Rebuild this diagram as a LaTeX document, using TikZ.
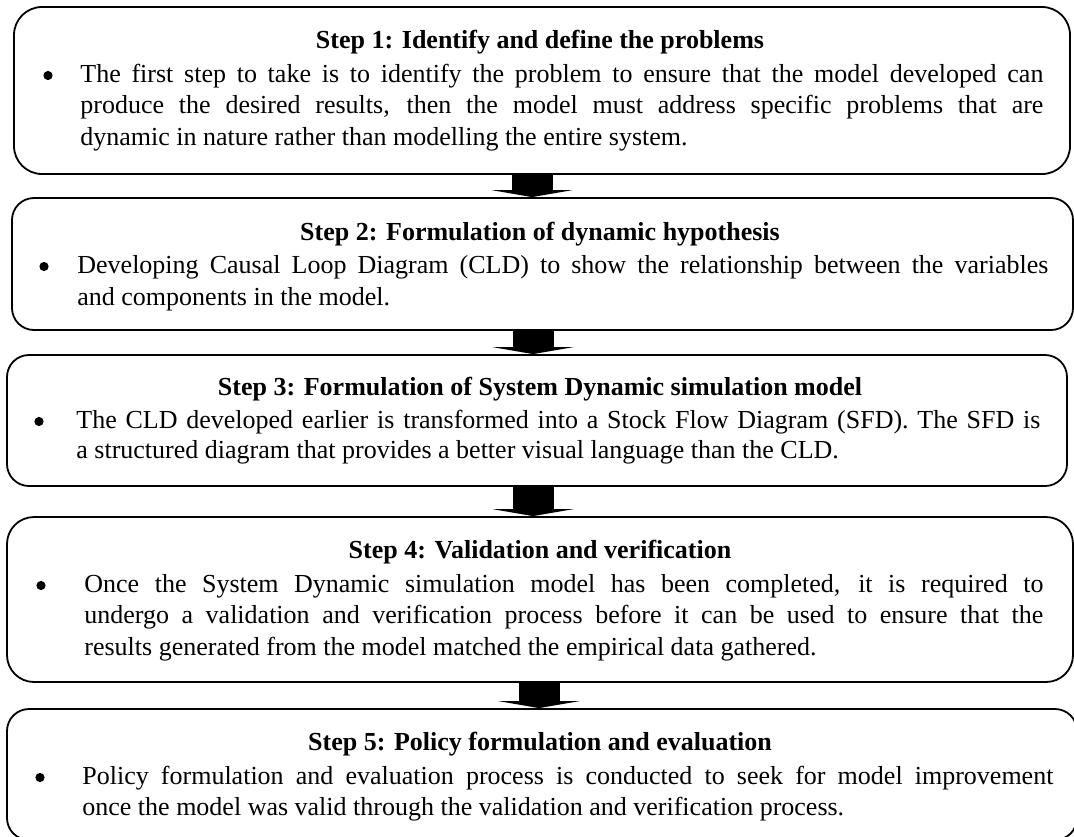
\documentclass[tikz,border=0pt]{standalone}
\usepackage{fontspec}
\setmainfont{Liberation Serif}
\usetikzlibrary{arrows.meta}
\newcommand{\txtfont}{\fontsize{13pt}{15.75pt}\selectfont}
\newcommand{\fl}[2]{\makebox[#1][s]{#2}}
\tikzset{
  stepbox/.style={draw, line width=0.9pt, rectangle, inner sep=0pt},
  headtext/.style={anchor=base, inner sep=0pt, font=\txtfont\bfseries},
  bodyline/.style={anchor=base west, inner sep=0pt, font=\txtfont},
  bul/.style={circle, fill=black, inner sep=0pt, minimum size=4.6pt},
  flow/.style={line width=20.5pt, -{Triangle[width=40.5pt,length=3.5pt,line width=0pt]}},
}
\begin{document}
\begin{tikzpicture}[x=0.5pt, y=-0.5pt]
\useasboundingbox (0,0) rectangle (1074,836);

% boxes
\node[stepbox, minimum width=528pt, minimum height=83.5pt, rounded corners=14pt] (b1) at (542,90.5) {};
\node[stepbox, minimum width=530.5pt, minimum height=66pt, rounded corners=11pt] (b2) at (542.5,264) {};
\node[stepbox, minimum width=530pt, minimum height=65.5pt, rounded corners=11pt] (b3) at (537,420.5) {};
\node[stepbox, minimum width=533pt, minimum height=82.5pt, rounded corners=13.5pt] (b4) at (540,599.5) {};
\node[stepbox, minimum width=535pt, minimum height=65.5pt, rounded corners=11pt] (b5) at (542,774.5) {};

% arrows
\coordinate (s1) at ([xshift=-5pt]b1.south);
\coordinate (s2) at ([xshift=-4.75pt]b2.south);
\coordinate (s3) at ([xshift=-2pt]b3.south);
\coordinate (s4) at ([xshift=-0.5pt]b4.south);
\draw[flow] (s1) -- (s1 |- b2.north);
\draw[flow] (s2) -- (s2 |- b3.north);
\draw[flow] (s3) -- (s3 |- b4.north);
\draw[flow] (s4) -- (s4 |- b5.north);

% Step 1
\node[headtext] (h1) at (540,48) {Step 1: Identify and define the problems};
\node[bul] (u1) at (48,75.5) {};
\node[bodyline] (t1a) at (80,82) {\fl{481.5pt}{The first step to take is to identify the problem to ensure that the model developed can}};
\node[bodyline] (t1b) at (80,113.5) {\fl{481.5pt}{produce the desired results, then the model must address specific problems that are}};
\node[bodyline] (t1c) at (80,145) {dynamic in nature rather than modelling the entire system.};

% Step 2
\node[headtext] (h2) at (540,240) {Step 2: Formulation of dynamic hypothesis};
\node[bul] (u2) at (44,266.5) {};
\node[bodyline] (t2a) at (77,273) {\fl{485.5pt}{Developing Causal Loop Diagram (CLD) to show the relationship between the variables}};
\node[bodyline] (t2b) at (77,305) {and components in the model.};

% Step 3
\node[headtext] (h3) at (540,395) {Step 3: Formulation of System Dynamic simulation model};
\node[bul] (u3) at (39,421.5) {};
\node[bodyline] (t3a) at (76,428) {\fl{482pt}{The CLD developed earlier is transformed into a Stock Flow Diagram (SFD). The SFD is}};
\node[bodyline] (t3b) at (76,458) {a structured diagram that provides a better visual language than the CLD.};

% Step 4
\node[headtext] (h4) at (540,558) {Step 4: Validation and verification};
\node[bul] (u4) at (41,585.5) {};
\node[bodyline] (t4a) at (84,592) {\fl{479.5pt}{Once the System Dynamic simulation model has been completed, it is required to}};
\node[bodyline] (t4b) at (84,623.5) {\fl{479.5pt}{undergo a validation and verification process before it can be used to ensure that the}};
\node[bodyline] (t4c) at (84,655) {results generated from the model matched the empirical data gathered.};

% Step 5
\node[headtext] (h5) at (540,750) {Step 5: Policy formulation and evaluation};
\node[bul] (u5) at (40,777.5) {};
\node[bodyline] (t5a) at (82,784) {\fl{485.5pt}{Policy formulation and evaluation process is conducted to seek for model improvement}};
\node[bodyline] (t5b) at (82,815) {once the model was valid through the validation and verification process.};
\end{tikzpicture}
\end{document}
